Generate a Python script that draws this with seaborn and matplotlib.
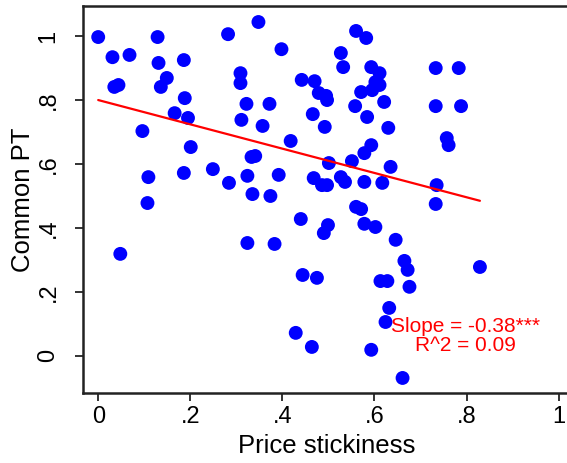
import matplotlib
matplotlib.use("Agg")
import matplotlib.pyplot as plt
import numpy as np
import pandas as pd
import seaborn as sns

# values
stickiness = [0.000, 0.031, 0.068, 0.035, 0.044, 0.129, 0.131, 0.186, 0.149, 0.136,
              0.188, 0.166, 0.195, 0.096, 0.201, 0.109, 0.186, 0.249, 0.284, 0.282,
              0.309, 0.309, 0.322, 0.311, 0.333, 0.324, 0.335, 0.348, 0.398, 0.442,
              0.470, 0.479, 0.495, 0.497, 0.372, 0.466, 0.357, 0.492, 0.418, 0.341,
              0.501, 0.392, 0.468, 0.486, 0.497, 0.527, 0.536, 0.578, 0.617, 0.551,
              0.635, 0.578, 0.593, 0.560, 0.582, 0.527, 0.532, 0.593, 0.611, 0.602,
              0.611, 0.571, 0.595, 0.558, 0.621, 0.584, 0.630, 0.374, 0.733, 0.783,
              0.733, 0.788, 0.757, 0.761, 0.735, 0.733, 0.107, 0.048, 0.324, 0.440,
              0.499, 0.490, 0.560, 0.571, 0.578, 0.602, 0.646, 0.383, 0.444, 0.475,
              0.613, 0.628, 0.665, 0.672, 0.676, 0.632, 0.624, 0.429, 0.464, 0.593,
              0.661, 0.829]
common_pt = [0.997, 0.934, 0.941, 0.841, 0.847, 0.997, 0.916, 0.925, 0.869, 0.841,
             0.806, 0.759, 0.744, 0.703, 0.653, 0.559, 0.572, 0.584, 0.541, 1.006,
             0.884, 0.853, 0.788, 0.738, 0.622, 0.563, 0.506, 1.044, 0.959, 0.863,
             0.859, 0.822, 0.813, 0.800, 0.788, 0.756, 0.719, 0.716, 0.672, 0.625,
             0.603, 0.566, 0.556, 0.534, 0.534, 0.559, 0.544, 0.544, 0.541, 0.609,
             0.591, 0.634, 0.659, 1.016, 0.994, 0.947, 0.903, 0.903, 0.884, 0.856,
             0.847, 0.825, 0.831, 0.781, 0.794, 0.747, 0.713, 0.500, 0.900, 0.900,
             0.781, 0.781, 0.681, 0.659, 0.534, 0.475, 0.478, 0.319, 0.353, 0.428,
             0.409, 0.384, 0.466, 0.459, 0.413, 0.403, 0.363, 0.350, 0.253, 0.244,
             0.234, 0.234, 0.297, 0.269, 0.216, 0.150, 0.106, 0.072, 0.028, 0.019,
             -0.069, 0.278]

fit_intercept = 0.80
fit_slope = -0.38
annotation = "Slope = -0.38***\nR^2 = 0.09"

xticks = [0, 0.2, 0.4, 0.6, 0.8, 1]
xtick_labels = ["0", ".2", ".4", ".6", ".8", "1"]
yticks = [0, 0.2, 0.4, 0.6, 0.8, 1]
ytick_labels = ["0", ".2", ".4", ".6", ".8", "1"]

df = pd.DataFrame({"x": stickiness, "y": common_pt})

sns.set_style("white")
plt.rcParams["font.family"] = ["Liberation Sans", "DejaVu Sans"]

fig = plt.figure(figsize=(5.67, 4.63), dpi=100)
ax = fig.add_axes([0.1464, 0.1512, 0.86, 0.8358])

sns.scatterplot(data=df, x="x", y="y", ax=ax, color="#0000ff", s=100,
                edgecolor="none", linewidth=0, zorder=2)

xfit = np.array([df["x"].min(), df["x"].max()])
ax.plot(xfit, fit_intercept + fit_slope * xfit, color="#ff0000", lw=1.6, zorder=3)

ax.text(0.797, 0.0625, annotation, color="#ff0000", fontsize=15,
        ha="center", va="center", linespacing=1.0, zorder=4)

ax.set_xlim(-0.033, 1.026)
ax.set_ylim(-0.116, 1.094)
ax.set_xticks(xticks, xtick_labels)
ax.set_yticks(yticks, ytick_labels)
ax.tick_params(axis="both", direction="out", length=6, width=1.2,
               labelsize=17, color="#111111", labelcolor="#000000",
               bottom=True, left=True)
ax.tick_params(axis="y", pad=11)
for lab in ax.get_yticklabels():
    lab.set_rotation(90)
    lab.set_va("center")
ax.set_xlabel("Price stickiness", fontsize=18.5, labelpad=4, color="#000000")
ax.set_ylabel("Common PT", fontsize=18.5, labelpad=2, color="#000000")

ax.spines["right"].set_visible(False)
for side in ["top", "left", "bottom"]:
    ax.spines[side].set_color("#222222")
    ax.spines[side].set_linewidth(1.8)

fig.savefig("out.png", dpi=100)
